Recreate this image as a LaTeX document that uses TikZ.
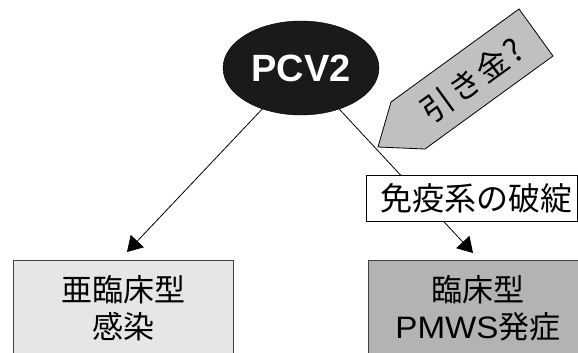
\documentclass[tikz,border=0pt]{standalone}
\usepackage{fontspec}
\setmainfont{Noto Sans CJK JP}
\newfontfamily\latinfont[FakeStretch=1.07]{Liberation Sans}
\newfontfamily\pcvfont{Liberation Sans}
\newfontfamily\trigfont[LetterSpace=6]{Noto Sans CJK JP}
\usetikzlibrary{shapes.geometric,arrows.meta}
\definecolor{virusfill}{HTML}{1A1A1A}
\definecolor{subfill}{HTML}{E6E6E6}
\definecolor{clinfill}{HTML}{B3B3B3}
\definecolor{trigfill}{HTML}{C0C0C0}
\definecolor{boxline}{HTML}{404040}
\begin{document}
\begin{tikzpicture}[x=1pt,y=-1pt,
  conn/.style={draw=black, line width=0.8pt, -{Triangle[length=15pt,width=18pt]}},
  outcome/.style={draw=boxline, line width=0.8pt, minimum width=220pt, minimum height=97pt,
    inner sep=0pt, align=center, font=\fontsize{31}{37}\selectfont},
  virus/.style={ellipse, draw=black, fill=virusfill, minimum width=156pt, minimum height=94pt,
    inner sep=0pt, text=white, font=\pcvfont\bfseries\fontsize{38}{40}\selectfont},
  labelbox/.style={draw=black, fill=white, line width=0.8pt, minimum width=211pt, minimum height=46pt,
    inner sep=0pt, font=\fontsize{32}{36}\selectfont},
  trigshape/.style={draw=black, fill=trigfill, line width=0.8pt, line join=miter},
  trigtext/.style={rotate=36, inner sep=0pt, font=\trigfont\fontsize{32}{34}\selectfont}
]
\useasboundingbox (0,0) rectangle (578,353);
\clip (0,0) rectangle (578,353);

% nodes
\node[virus] (pcv) at (301,68) {PCV2};
\node[outcome, fill=subfill] (sub) at (123,308.5) {亜臨床型\\感染};
\node[outcome, fill=clinfill] (clin) at (478,308.5) {臨床型\\{\latinfont PMWS}発症};

% connector end points
\coordinate (subtip) at (127,252);
\coordinate (clintip) at (473,253);

% connectors
\draw[conn] (pcv) -- (subtip);
\draw[conn] (pcv) -- (clintip);

% label on the right connector
\node[labelbox] (imm) at (471.5,198) {\hspace*{10pt}免疫系の破綻};

% trigger arrow
\coordinate (trigtip) at (378,147);
\coordinate (trigA) at (391,102);
\coordinate (trigB) at (519,9);
\coordinate (trigC) at (553,56);
\coordinate (trigD) at (425,149);
\draw[trigshape] (trigtip) -- (trigA) -- (trigB) -- (trigC) -- (trigD) -- cycle;
\node[trigtext] (trig) at (472,80) {引き金?};
\end{tikzpicture}
\end{document}
